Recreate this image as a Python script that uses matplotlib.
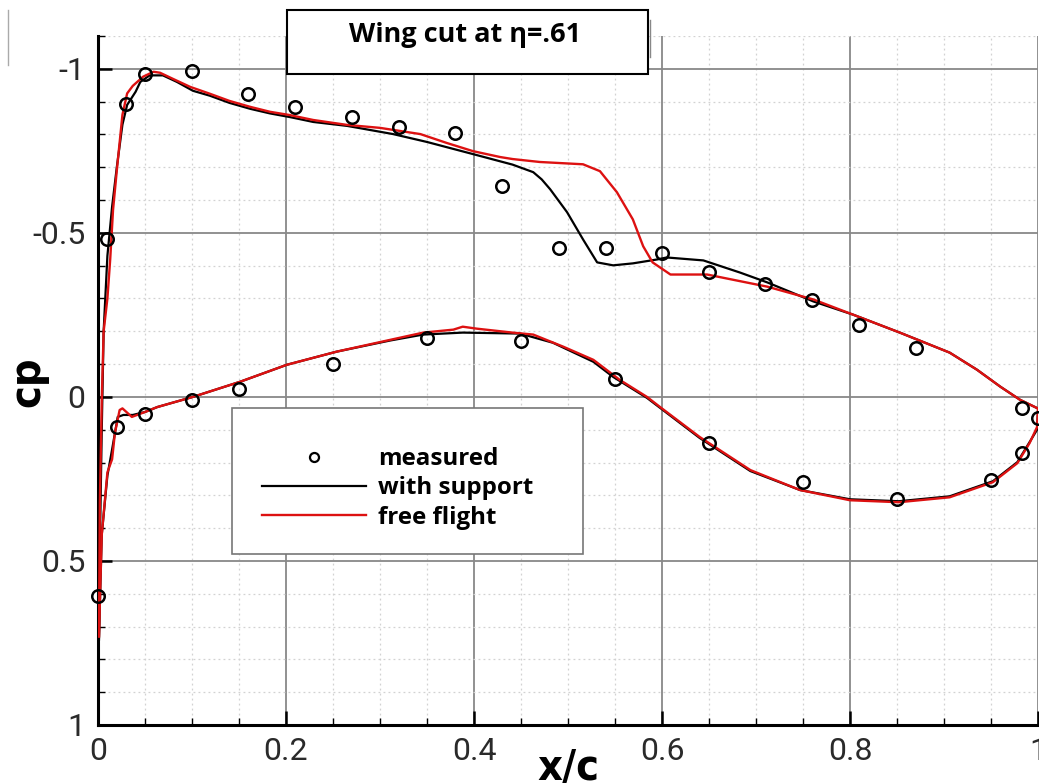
import matplotlib
matplotlib.use("Agg")
import matplotlib.pyplot as plt
from matplotlib.patches import Rectangle
from matplotlib.lines import Line2D
from matplotlib.ticker import MultipleLocator, FixedLocator, FixedFormatter

plt.rcParams['axes.unicode_minus'] = False

# measured points
meas_up_x = [0.0, 0.010, 0.030, 0.050, 0.100, 0.160, 0.210, 0.270, 0.320, 0.380, 0.430,
             0.490, 0.540, 0.600, 0.650, 0.710, 0.760, 0.810, 0.870, 0.983, 1.0]
meas_up_cp = [0.606, -0.480, -0.893, -0.985, -0.994, -0.924, -0.884, -0.853, -0.823, -0.804, -0.642,
              -0.453, -0.453, -0.440, -0.382, -0.343, -0.294, -0.220, -0.150, 0.034, 0.064]
meas_lo_x = [0.020, 0.050, 0.100, 0.150, 0.250, 0.350, 0.450, 0.550, 0.650, 0.750, 0.850, 0.950, 0.983]
meas_lo_cp = [0.092, 0.052, 0.009, -0.024, -0.101, -0.180, -0.171, -0.055, 0.141, 0.260, 0.312, 0.254, 0.171]

# with support (black)
sup_up_x = [0.001, 0.002, 0.004, 0.006, 0.010, 0.015, 0.020, 0.026, 0.031, 0.040, 0.045, 0.055, 0.069,
            0.084, 0.101, 0.119, 0.140, 0.162, 0.183, 0.204, 0.229, 0.265, 0.314, 0.350, 0.399, 0.441,
            0.463, 0.472, 0.481, 0.499, 0.516, 0.531, 0.548, 0.569, 0.595, 0.605, 0.644, 0.683, 0.712, 0.761,
            0.803, 0.853, 0.906, 0.935, 0.960, 0.981, 0.999]
sup_up_cp = [0.74, 0.45, 0.10, -0.20, -0.43, -0.58, -0.70, -0.83, -0.89, -0.93, -0.96, -0.98, -0.98,
             -0.96, -0.933, -0.918, -0.896, -0.878, -0.864, -0.853, -0.838, -0.826, -0.801, -0.777, -0.740, -0.708,
             -0.685, -0.663, -0.633, -0.563, -0.480, -0.410, -0.401, -0.407, -0.419, -0.425, -0.416, -0.379, -0.349, -0.291,
             -0.251, -0.196, -0.135, -0.083, -0.031, 0.009, 0.034]
sup_lo_x = [0.001, 0.004, 0.010, 0.015, 0.021, 0.027, 0.037, 0.050, 0.063, 0.101, 0.151, 0.201, 0.254,
            0.311, 0.346, 0.388, 0.449, 0.484, 0.527, 0.548, 0.584, 0.640, 0.694, 0.747, 0.800, 0.852,
            0.906, 0.952, 0.978, 0.991, 0.999, 1.0]
sup_lo_cp = [0.74, 0.42, 0.24, 0.16, 0.061, 0.055, 0.055, 0.046, 0.031, 0.000, -0.046, -0.098, -0.138,
             -0.172, -0.190, -0.196, -0.193, -0.165, -0.107, -0.061, 0.003, 0.125, 0.226, 0.284, 0.312, 0.318,
             0.303, 0.257, 0.199, 0.138, 0.10, 0.04]

# free flight (red)
ff_up_x = [0.001, 0.002, 0.004, 0.006, 0.010, 0.013, 0.016, 0.020, 0.026, 0.031, 0.037, 0.048, 0.059,
           0.066, 0.080, 0.098, 0.119, 0.140, 0.162, 0.183, 0.204, 0.229, 0.265, 0.300, 0.343, 0.371,
           0.399, 0.428, 0.441, 0.470, 0.516, 0.534, 0.552, 0.569, 0.580, 0.590, 0.609, 0.648, 0.712,
           0.761, 0.803, 0.853, 0.906, 0.935, 0.960, 0.981, 0.999]
ff_up_cp = [0.73, 0.32, 0.01, -0.20, -0.30, -0.42, -0.57, -0.69, -0.86, -0.925, -0.948, -0.976, -0.991,
            -0.988, -0.969, -0.945, -0.924, -0.902, -0.884, -0.869, -0.859, -0.844, -0.829, -0.820, -0.801, -0.774,
            -0.749, -0.731, -0.725, -0.716, -0.709, -0.688, -0.624, -0.541, -0.459, -0.410, -0.373, -0.373, -0.336,
            -0.297, -0.251, -0.196, -0.135, -0.083, -0.031, 0.009, 0.034]
ff_lo_x = [0.001, 0.004, 0.010, 0.015, 0.018, 0.023, 0.026, 0.036, 0.050, 0.063, 0.101, 0.151, 0.201,
           0.254, 0.311, 0.346, 0.378, 0.388, 0.403, 0.441, 0.463, 0.495, 0.527, 0.555, 0.584, 0.598,
           0.640, 0.694, 0.747, 0.800, 0.852, 0.906, 0.952, 0.978, 0.991, 0.999, 1.0]
ff_lo_cp = [0.73, 0.42, 0.23, 0.19, 0.11, 0.04, 0.035, 0.061, 0.046, 0.031, 0.000, -0.046, -0.098,
            -0.138, -0.174, -0.196, -0.205, -0.214, -0.208, -0.196, -0.190, -0.153, -0.113, -0.052, 0.000, 0.031,
            0.122, 0.223, 0.284, 0.315, 0.321, 0.306, 0.260, 0.202, 0.141, 0.092, 0.040]

yticks = [-1, -0.5, 0, 0.5, 1]
ytick_labels = ['-1', '-0.5', '0', '0.5', '1']
xticks = [0, 0.2, 0.4, 0.6, 0.8, 1.0]
xtick_labels = ['0', '0.2', '0.4', '0.6', '0.8', '1']

W, H = 1039, 783
tickfont = ['Roboto', 'DejaVu Sans']
red = '#dd1111'

fig = plt.figure(figsize=(W / 100, H / 100), dpi=100)
ax = fig.add_axes([98 / W, 58 / H, 940 / W, 689 / H])
ax.set_xlim(0, 1)
ax.set_ylim(1, -1.1)

ax.plot(sup_up_x, sup_up_cp, color='black', lw=1.6, zorder=3)
ax.plot(sup_lo_x, sup_lo_cp, color='black', lw=1.6, zorder=3)
ax.plot(ff_up_x, ff_up_cp, color=red, lw=1.7, zorder=4)
ax.plot(ff_lo_x, ff_lo_cp, color=red, lw=1.7, zorder=4)
ax.plot(meas_up_x, meas_up_cp, 'o', ms=9, mfc='none', mec='black', mew=1.8, zorder=5, clip_on=False)
ax.plot(meas_lo_x, meas_lo_cp, 'o', ms=9, mfc='none', mec='black', mew=1.8, zorder=5, clip_on=False)

ax.xaxis.set_major_locator(FixedLocator(xticks))
ax.xaxis.set_major_formatter(FixedFormatter(xtick_labels))
ax.xaxis.set_minor_locator(MultipleLocator(0.05))
ax.yaxis.set_major_locator(FixedLocator(yticks))
ax.yaxis.set_major_formatter(FixedFormatter(ytick_labels))
ax.yaxis.set_minor_locator(MultipleLocator(0.1))

ax.grid(which='major', color='#888888', lw=1.3, zorder=0)
ax.grid(which='minor', color='#d2d2d2', lw=0.9, ls=(0, (1.5, 2.5)), zorder=0)
ax.set_axisbelow(True)

for s in ['top', 'right']:
    ax.spines[s].set_visible(False)
for s in ['left', 'bottom']:
    ax.spines[s].set_linewidth(2.2)

ax.tick_params(which='major', direction='in', length=10, width=1.8, pad=9)
ax.tick_params(which='minor', direction='in', length=5, width=1.0)
for lab in ax.get_xticklabels() + ax.get_yticklabels():
    lab.set_family(tickfont)
    lab.set_fontweight('normal')
    lab.set_fontsize(23)
    lab.set_color('#2a2a2a')

# axis titles
fig.text(568 / W, 1 - 780 / H, 'x/c', ha='center', va='baseline', family='DejaVu Sans',
         fontstretch='condensed', fontsize=31, fontweight='bold')
fig.text(27 / W, 1 - 382 / H, 'cp', ha='center', va='center', rotation=90, family='DejaVu Sans',
         fontstretch='condensed', fontsize=31, fontweight='bold')

# title box
fig.add_artist(Rectangle((287 / W, 1 - 74 / H), 361 / W, 64 / H, transform=fig.transFigure,
                         facecolor='white', edgecolor='black', lw=1.5, zorder=5))
fig.text(465 / W, 1 - 35 / H, 'Wing cut at η=.61', ha='center', va='center',
         family=['Open Sans', 'DejaVu Sans'], fontweight='bold', fontsize=19.5, zorder=6)
# small artefacts at the top
fig.add_artist(Line2D([8 / W, 8 / W], [1 - 10 / H, 1 - 65 / H], color='#aaaaaa', lw=1.0))
fig.add_artist(Line2D([650 / W, 650 / W], [1 - 20 / H, 1 - 57 / H], color='#888888', lw=1.0))

# legend box
fig.add_artist(Rectangle((232 / W, 1 - 554 / H), 351 / W, 146 / H, transform=fig.transFigure,
                         facecolor='white', edgecolor='#777777', lw=1.2, zorder=5))
handles = [Line2D([], [], ls='none', marker='o', ms=6.5, mfc='none', mec='black', mew=1.6),
           Line2D([], [], color='black', lw=1.6),
           Line2D([], [], color=red, lw=1.7)]
leg = fig.legend(handles, ['measured', 'with support', 'free flight'], loc='upper left',
                 bbox_to_anchor=(262 / W, 1 - 447 / H), frameon=False, borderpad=0, borderaxespad=0,
                 handlelength=4.3, handletextpad=0.5, labelspacing=0.22,
                 prop={'family': ['Open Sans', 'DejaVu Sans'], 'weight': 'bold', 'size': 17.4})
leg.set_zorder(6)

fig.savefig('out.png', dpi=100)
